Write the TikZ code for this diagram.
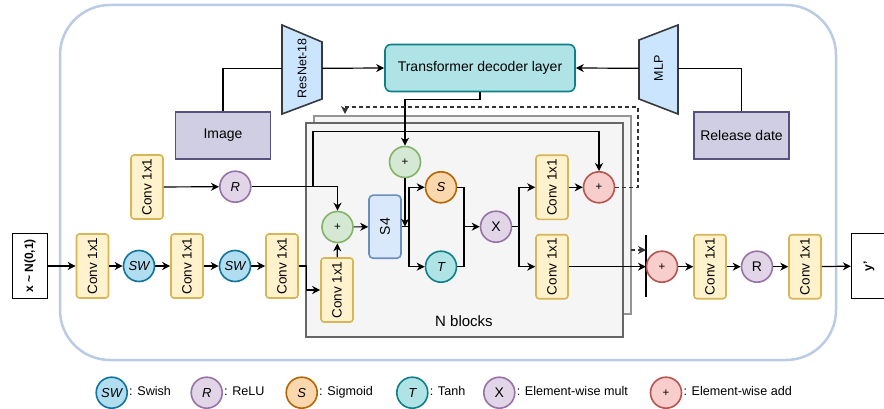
\documentclass[tikz,border=0pt]{standalone}
\usepackage{fontspec}
\setmainfont{Liberation Sans}
\usepackage{graphicx}
\usetikzlibrary{arrows.meta}

\definecolor{convfill}{HTML}{FFF2CC}\definecolor{convline}{HTML}{D6B656}
\definecolor{swfill}{HTML}{B1DDF0}\definecolor{swline}{HTML}{10739E}
\definecolor{purfill}{HTML}{E1D5E7}\definecolor{purline}{HTML}{9673A6}
\definecolor{sigfill}{HTML}{FAD7AC}\definecolor{sigline}{HTML}{B46504}
\definecolor{tealfill}{HTML}{B0E3E6}\definecolor{tealline}{HTML}{0E8088}
\definecolor{grnfill}{HTML}{D5E8D4}\definecolor{grnline}{HTML}{82B366}
\definecolor{redfill}{HTML}{F8CECC}\definecolor{redline}{HTML}{B85450}
\definecolor{bluefill}{HTML}{DAE8FC}\definecolor{blueline}{HTML}{6C8EBF}
\definecolor{inpfill}{HTML}{D0CEE2}\definecolor{inpline}{HTML}{56517E}
\definecolor{trapfill}{HTML}{CCE5FF}\definecolor{trapline}{HTML}{36393D}
\definecolor{outerline}{HTML}{B9CBE5}

\begin{document}
\begin{tikzpicture}[x=1pt, y=-1pt, font=\fontsize{14}{16}\selectfont,
	every node/.style={inner sep=0pt},
	conv/.style={draw=convline, fill=convfill, line width=1.6pt, rounded corners=3pt, minimum width=32pt, minimum height=64pt, font=\fontsize{13.5}{15}\selectfont},
	op/.style={circle, line width=1.6pt, minimum size=31pt, font=\fontsize{13}{15}\selectfont\itshape},
	swish/.style={op, draw=swline, fill=swfill},
	relu/.style={op, draw=purline, fill=purfill},
	sigm/.style={op, draw=sigline, fill=sigfill},
	tanhop/.style={op, draw=tealline, fill=tealfill},
	addg/.style={op, draw=grnline, fill=grnfill, font=\fontsize{11.5}{13}\selectfont},
	addr/.style={op, draw=redline, fill=redfill, font=\fontsize{11.5}{13}\selectfont},
	inbox/.style={draw=inpline, fill=inpfill, line width=1.6pt, minimum width=95pt, minimum height=47pt},
	trap/.style={draw=trapline, fill=trapfill, line width=1.6pt},
	traptext/.style={minimum height=10pt, font=\fontsize{12.5}{14}\selectfont},
	io/.style={draw, line width=1.2pt, minimum width=35pt, minimum height=65pt},
	legtext/.style={anchor=west, text height=9pt, text depth=2.7pt, font=\fontsize{12.6}{14}\selectfont},
	arr/.style={-{Stealth[length=8pt, width=8pt, inset=2.5pt]}, line width=1.2pt},
	fb/.style={arr, dash pattern=on 4pt off 3pt, draw=black!80}
	]
	\useasboundingbox (0,0) rectangle (884,409);
	
	\draw[outerline, line width=2.5pt, rounded corners=50pt] (60,5) rectangle (836,360);
	
	% N blocks
	\draw[fill=black!4, draw=black!42, line width=1.6pt] (314,116) rectangle (631,314);
	\draw[fill=black!4, draw=black!60, line width=1.6pt] (306,123) rectangle (623,337);
	\node (nblk) at (464,321) {\fontsize{15}{17}\selectfont N blocks};
	
	% conditioning
	\node[inbox] (img) at (223,135.5) {Image};
	\node[inbox] (rdate) at (741.5,135.5) {Release date};
	\node[draw=tealline, fill=tealfill, line width=1.6pt, rounded corners=6pt, minimum width=190pt, minimum height=47pt] (tdl) at (480,68) {Transformer decoder layer};
	\draw[trap] (282,25) -- (322,42) -- (322,99) -- (282,114) -- cycle;
	\node[traptext, minimum width=40pt] (resnet) at (302,68.3) {\rotatebox{90}{ResNet-18}};
	\draw[trap] (639,40) -- (678,25) -- (678,114) -- (639,99) -- cycle;
	\node[traptext, minimum width=39pt] (mlp) at (658.5,68.3) {\rotatebox{90}{MLP}};
	
	\draw[line width=1.2pt] (img.north) |- (resnet.west);
	\draw[arr] (resnet.east) -- (tdl.west);
	\draw[line width=1.2pt] (rdate.north) |- (mlp.east);
	\draw[arr] (mlp.west) -- (tdl.east);
	
	% main path
	\node[io] (inp) at (30,266) {\rotatebox{90}{\fontsize{12}{14}\selectfont\bfseries x \textasciitilde{} N(0,1)}};
	\node[conv] (c1) at (92.5,266) {\rotatebox{90}{Conv 1x1}};
	\node[swish] (sw1) at (139,266) {SW};
	\node[conv] (c2) at (187,266) {\rotatebox{90}{Conv 1x1}};
	\node[swish] (sw2) at (235,266) {SW};
	\node[conv] (c3) at (282,266) {\rotatebox{90}{Conv 1x1}};
	\node[conv] (cpre) at (147,187) {\rotatebox{90}{Conv 1x1}};
	\node[relu] (r1) at (235.3,186.7) {R};
	
	\node[conv] (c4) at (337,290) {\rotatebox{90}{Conv 1x1}};
	\node[addg] (addl) at (337.5,227) {+};
	\node[draw=blueline, fill=bluefill, line width=1.6pt, rounded corners=4pt, minimum width=32pt, minimum height=63pt] (s4) at (385,226.7) {\rotatebox{90}{S4}};
	\node[addg] (addt) at (405,162) {+};
	\node[sigm] (sig) at (441,187.3) {S};
	\node[tanhop] (tnh) at (441,266.7) {T};
	\node[relu, font=\fontsize{14}{16}\selectfont] (mul) at (496,226.7) {X};
	\node[conv] (c5) at (552,187.3) {\rotatebox{90}{Conv 1x1}};
	\node[conv] (c6) at (552,266.7) {\rotatebox{90}{Conv 1x1}};
	\node[addr] (addres) at (599,187.3) {+};
	
	\draw[line width=1.6pt] (646,235) coordinate (bt) -- (646,297) coordinate (bb);
	\node[addr] (addo) at (662,266.7) {+};
	\node[conv] (c7) at (710,266.7) {\rotatebox{90}{Conv 1x1}};
	\node[relu, font=\fontsize{14}{16}\selectfont] (r2) at (757,266.7) {R};
	\node[conv] (c8) at (805,266.7) {\rotatebox{90}{Conv 1x1}};
	\node[io] (outp) at (869,266) {\rotatebox{90}{\fontsize{12}{14}\selectfont\bfseries y'}};
	
	\draw[arr] (inp) -- (c1);
	\draw[arr] (c1) -- (sw1);
	\draw[arr] (sw1) -- (c2);
	\draw[arr] (c2) -- (sw2);
	\draw[arr] (sw2) -- (c3);
	\draw[arr] (c3.east) -- ++(8,0) |- (c4.west);
	\draw[arr] (c4) -- (addl);
	\draw[arr] (addl) -- (s4);
	\draw[arr] (cpre) -- (r1);
	\draw[arr] (r1.east) -| (addl.north);
	\draw[arr] (313,186.7) coordinate (rb) -- ++(0,-55) -| (addres.north);
	\draw[arr] (tdl.south) -- ++(0,7) -| (addt.north);
	\draw[line width=1.2pt] (s4.east) -- (409,226.7) coordinate (sp);
	\draw[arr] (sp) |- (sig.west);
	\draw[arr] (sp) |- (tnh.west);
	\draw[arr] (addt.south) -- (addt.south |- sp);
	\draw[line width=1.2pt] (sig.east) -| (464,226.7) coordinate (mj);
	\draw[line width=1.2pt] (tnh.east) -| (mj);
	\draw[arr] (mj) -- (mul.west);
	\draw[line width=1.2pt] (mul.east) -- (519,226.7) coordinate (mp);
	\draw[arr] (mp) |- (c5.west);
	\draw[arr] (mp) |- (c6.west);
	\draw[arr] (c5) -- (addres);
	\draw[arr] (c6.east) -- (c6.east -| bt);
	\draw[fb] (addres.east) -| (638,107) -| (345,114) coordinate (fbend);
	\draw[fb] (631,250) coordinate (fbs) -- (646,250);
	\draw[arr] (addo) -- (c7);
	\draw[arr] (c7) -- (r2);
	\draw[arr] (r2) -- (c8);
	\draw[arr] (c8) -- (outp);
	
	% legend
	\node[swish] (lsw) at (111.7,392.7) {SW};
	\node[legtext] at ([xshift=1pt]lsw.east) {: Swish};
	\node[relu] (lr) at (206.7,392.7) {R};
	\node[legtext] at ([xshift=1pt]lr.east) {: ReLU};
	\node[sigm] (ls) at (301.7,392.7) {S};
	\node[legtext] at ([xshift=1pt]ls.east) {: Sigmoid};
	\node[tanhop] (lt) at (412.3,392.7) {T};
	\node[legtext] at ([xshift=1pt]lt.east) {: Tanh};
	\node[relu, font=\fontsize{14}{16}\selectfont] (lx) at (499.3,392.7) {X};
	\node[legtext] at ([xshift=1pt]lx.east) {: Element-wise mult};
	\node[addr] (la) at (666,392.7) {+};
	\node[legtext] at ([xshift=1pt]la.east) {: Element-wise add};
	
\end{tikzpicture}
\end{document}
